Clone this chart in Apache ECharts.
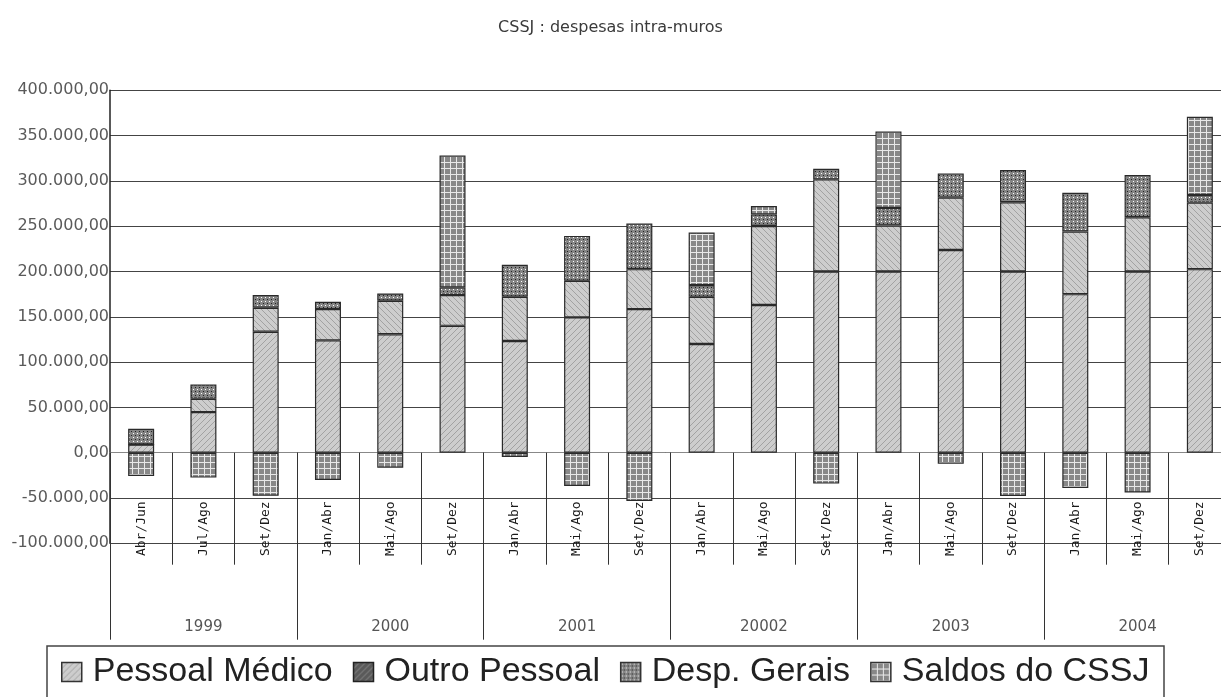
<!DOCTYPE html>
<html>
<head>
<meta charset="utf-8">
<title>CSSJ : despesas intra-muros</title>
<script src="https://cdn.jsdelivr.net/npm/echarts@6/dist/echarts.min.js"></script>
<style>
  html, body { margin: 0; padding: 0; background: #fff; }
  #chart { width: 1221px; height: 697px; }
</style>
</head>
<body>
<div id="chart"></div>
<script>
// Quarterly periods (lower axis level) and years (upper axis level)
const periods = ['Abr/Jun', 'Jul/Ago', 'Set/Dez',
                 'Jan/Abr', 'Mai/Ago', 'Set/Dez',
                 'Jan/Abr', 'Mai/Ago', 'Set/Dez',
                 'Jan/Abr', 'Mai/Ago', 'Set/Dez',
                 'Jan/Abr', 'Mai/Ago', 'Set/Dez',
                 'Jan/Abr', 'Mai/Ago', 'Set/Dez'];
const years = ['1999', '2000', '2001', '20002', '2003', '2004'];

// Expenses per period
const pessoalMedico = [9000, 44800, 133500, 124000, 130700, 140000, 123300, 149400, 158500,
                       120000, 163000, 200000, 200000, 223800, 200000, 175000, 200000, 202600];
const outroPessoal  = [0, 14700, 26500, 34500, 37000, 34000, 48800, 40300, 44100,
                       52000, 87300, 101700, 50700, 57700, 76400, 69100, 59900, 73400];
const despGerais    = [17500, 15700, 14000, 8000, 8000, 8500, 35300, 49600, 50300,
                       13000, 12700, 11700, 19400, 26800, 35600, 42900, 46500, 8400];
const saldosCSSJ    = [-25700, -27500, -47500, -30000, -16500, 145600, -4700, -36700, -53200,
                       58000, 9300, -34100, 84500, -12100, -47700, -38900, -44000, 86300];

const yTicks = { min: -100000, max: 400000, step: 50000 };

// --- fill patterns -------------------------------------------------------
function pattern(w, h, draw) {
  const c = document.createElement('canvas');
  c.width = w; c.height = h;
  const g = c.getContext('2d');
  draw(g, w, h);
  return { image: c, repeat: 'repeat' };
}
function hatch(bg, fg, forward) {
  return pattern(6, 6, (g, w, h) => {
    g.fillStyle = bg; g.fillRect(0, 0, w, h);
    g.strokeStyle = fg; g.lineWidth = 1;
    g.beginPath();
    if (forward) {
      g.moveTo(-1, h + 1); g.lineTo(w + 1, -1);
      g.moveTo(-1, 1); g.lineTo(1, -1);
      g.moveTo(w - 1, h + 1); g.lineTo(w + 1, h - 1);
    } else {
      g.moveTo(-1, -1); g.lineTo(w + 1, h + 1);
      g.moveTo(w - 1, -1); g.lineTo(w + 1, 1);
      g.moveTo(-1, h - 1); g.lineTo(1, h + 1);
    }
    g.stroke();
  });
}
const fillMedico = hatch('#cdcdcd', '#a2a2a2', true);
const fillOutro = hatch('#cdcdcd', '#a2a2a2', false);
const fillOutroKey = hatch('#5a5a5a', '#8a8a8a', true);
const fillDesp = pattern(4, 4, (g) => {
  g.fillStyle = '#858585'; g.fillRect(0, 0, 4, 4);
  g.fillStyle = '#ffffff'; g.fillRect(1, 1, 1, 1);
  g.fillStyle = '#222222'; g.fillRect(3, 3, 1, 1);
});
const fillSaldos = pattern(6, 6, (g) => {
  g.fillStyle = '#888888'; g.fillRect(0, 0, 6, 6);
  g.fillStyle = '#e8e8e8'; g.fillRect(0, 0, 6, 1); g.fillRect(0, 0, 1, 6);
});

// --- number format: 350.000,00 -------------------------------------------
function fmt(v) {
  const s = Math.abs(Math.round(v)).toString().replace(/\B(?=(\d{3})+(?!\d))/g, '.');
  return (v < 0 ? '-' : '') + s + ',00';
}

const gridTop = 90.3, gridBottomPx = 543.3, H = 697;
const zeroY = gridTop + (yTicks.max / (yTicks.max - yTicks.min)) * (gridBottomPx - gridTop);

function barSeries(name, data, fill) {
  return {
    name, type: 'bar', stack: 'total', data,
    barWidth: 26,
    itemStyle: { color: fill, borderColor: '#2a2a2a', borderWidth: 1.2 },
    emphasis: { disabled: true }
  };
}

const chart = echarts.init(document.getElementById('chart'), null, { renderer: 'canvas' });
chart.setOption({
  animation: false,
  backgroundColor: '#ffffff',
  title: {
    text: 'CSSJ : despesas intra-muros',
    left: 'center', top: 15,
    textStyle: { fontFamily: 'DejaVu Sans', fontSize: 16, fontWeight: 'normal', color: '#3a3a3a' }
  },
  grid: {
    left: 110, right: -10, top: gridTop, bottom: H - gridBottomPx,
    containLabel: false, outerBoundsMode: 'none'
  },
  legend: {
    left: 61, top: 655,
    icon: 'rect',
    itemWidth: 20, itemHeight: 19, itemGap: 20,
    padding: 0,
    textStyle: {
      fontFamily: 'Liberation Sans, Arial, sans-serif', fontSize: 34, color: '#222',
      padding: [0, 0, 0, 6]
    },
    data: [
      { name: 'Pessoal Médico', itemStyle: { color: fillMedico, borderColor: '#333', borderWidth: 1.5 } },
      { name: 'Outro Pessoal', itemStyle: { color: fillOutroKey, borderColor: '#222', borderWidth: 1.5 } },
      { name: 'Desp. Gerais', itemStyle: { color: fillDesp, borderColor: '#333', borderWidth: 1.5 } },
      { name: 'Saldos do CSSJ', itemStyle: { color: fillSaldos, borderColor: '#333', borderWidth: 1.5 } }
    ]
  },
  xAxis: [
    {
      type: 'category', data: periods, position: 'bottom',
      axisLine: { show: true, onZero: true, lineStyle: { color: '#888', width: 1 } },
      axisTick: { show: true, interval: 0, length: 112, lineStyle: { color: '#333', width: 1 } },
      axisLabel: {
        interval: 0, rotate: 90, margin: -42, align: 'right', verticalAlign: 'middle',
        fontFamily: 'DejaVu Sans Mono', fontSize: 13, color: '#1a1a1a'
      },
      splitLine: { show: false }
    },
    {
      type: 'category', data: years, position: 'bottom',
      offset: zeroY - gridBottomPx,
      axisLine: { show: false, onZero: false },
      axisTick: { show: true, interval: 0, length: 187, lineStyle: { color: '#333', width: 1 } },
      axisLabel: { interval: 0, margin: 167, fontFamily: 'DejaVu Sans', fontSize: 15, color: '#555' },
      splitLine: { show: false }
    }
  ],
  yAxis: {
    type: 'value', min: yTicks.min, max: yTicks.max, interval: yTicks.step,
    axisLine: { show: true, lineStyle: { color: '#222', width: 1.5 } },
    axisTick: { show: false },
    axisLabel: { margin: 1, fontFamily: 'DejaVu Sans', fontSize: 16, color: '#5a5a5a', formatter: fmt },
    splitLine: { show: true, lineStyle: { color: '#444', width: 1 } }
  },
  graphic: [
    {
      type: 'rect', silent: true, z: 0,
      shape: { x: 47, y: 646, width: 1117, height: 60 },
      style: { fill: 'none', stroke: '#444', lineWidth: 1.5 }
    }
  ],
  series: [
    barSeries('Pessoal Médico', pessoalMedico, fillMedico),
    barSeries('Outro Pessoal', outroPessoal, fillOutro),
    barSeries('Desp. Gerais', despGerais, fillDesp),
    barSeries('Saldos do CSSJ', saldosCSSJ, fillSaldos)
  ]
});
</script>
</body>
</html>
